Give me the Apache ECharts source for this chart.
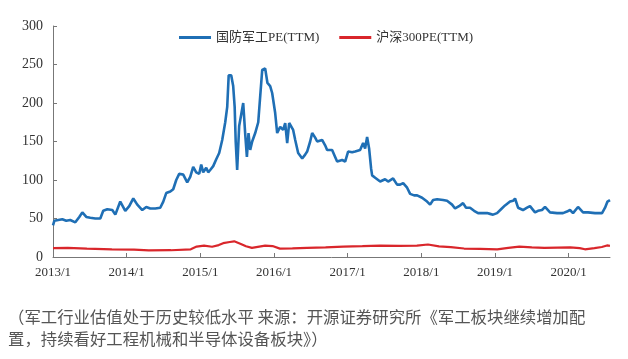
<!DOCTYPE html>
<html>
<head>
<meta charset="utf-8">
<script src="https://cdn.jsdelivr.net/npm/echarts@6/dist/echarts.min.js"></script>
<style>html,body{margin:0;padding:0;background:#fff}#c{width:628px;height:359px}</style>
</head>
<body>
<div id="c"></div>
<script>
// Decimal-year positions and PE values
const defenseName = '国防军工PE(TTM)';
const csiName = '沪深300PE(TTM)';
const yearTicks = [2013, 2014, 2015, 2016, 2017, 2018, 2019, 2020];
const defenseT = [2013.000,2013.018,2013.072,2013.126,2013.180,2013.234,2013.303,2013.357,2013.398,2013.452,2013.506,2013.574,2013.642,2013.682,2013.737,2013.805,2013.846,2013.913,2013.981,2014.035,2014.090,2014.144,2014.212,2014.266,2014.320,2014.388,2014.456,2014.497,2014.537,2014.592,2014.632,2014.673,2014.713,2014.768,2014.822,2014.863,2014.903,2014.944,2014.985,2015.012,2015.039,2015.080,2015.107,2015.134,2015.175,2015.216,2015.256,2015.297,2015.338,2015.365,2015.385,2015.419,2015.446,2015.466,2015.480,2015.500,2015.527,2015.555,2015.582,2015.609,2015.632,2015.654,2015.677,2015.704,2015.745,2015.786,2015.812,2015.840,2015.880,2015.911,2015.948,2015.975,2016.016,2016.043,2016.084,2016.124,2016.152,2016.179,2016.206,2016.260,2016.288,2016.328,2016.383,2016.423,2016.450,2016.491,2016.518,2016.559,2016.586,2016.653,2016.694,2016.721,2016.789,2016.830,2016.857,2016.925,2016.966,2017.006,2017.061,2017.101,2017.169,2017.210,2017.237,2017.264,2017.291,2017.318,2017.332,2017.373,2017.441,2017.508,2017.549,2017.617,2017.671,2017.712,2017.753,2017.807,2017.848,2017.902,2017.943,2018.010,2018.078,2018.119,2018.160,2018.214,2018.295,2018.349,2018.417,2018.458,2018.512,2018.566,2018.607,2018.661,2018.716,2018.770,2018.824,2018.892,2018.933,2018.974,2019.028,2019.082,2019.136,2019.204,2019.245,2019.272,2019.313,2019.380,2019.435,2019.475,2019.543,2019.584,2019.638,2019.679,2019.747,2019.842,2019.923,2019.977,2020.018,2020.059,2020.127,2020.195,2020.263,2020.358,2020.453,2020.494,2020.527,2020.561];
const defenseVals = [41,47,48,49,47,48,45,52,58,52,51,50,50,60,62,61,55,72,60,66,76,68,61,65,63,63,64,72,83,85,88,100,108,107,97,104,117,110,108,120,110,116,110,113,118,127,135,152,175,195,236,236,222,195,150,113,170,185,200,160,130,161,139,150,161,175,208,243,245,226,222,213,187,161,169,165,174,148,174,165,152,135,128,133,137,150,161,155,150,152,145,139,139,130,124,126,124,137,136,137,139,148,141,156,141,115,106,103,98,101,98,102,94,94,96,90,82,80,80,77,72,68,74,75,74,73,68,63,66,70,64,64,60,57,57,57,56,55,57,62,67,72,73,76,64,61,64,66,58,60,61,65,58,57,57,59,61,57,65,58,58,57,57,64,72,74];
const csiT = [2013.00,2013.20,2013.46,2013.80,2014.10,2014.30,2014.60,2014.87,2014.95,2015.05,2015.16,2015.25,2015.31,2015.40,2015.46,2015.55,2015.62,2015.70,2015.80,2015.88,2015.98,2016.08,2016.25,2016.45,2016.70,2016.94,2017.20,2017.44,2017.70,2017.94,2018.09,2018.24,2018.40,2018.58,2018.80,2019.03,2019.18,2019.33,2019.50,2019.67,2019.85,2020.02,2020.15,2020.22,2020.35,2020.45,2020.52,2020.56];
const csiVals = [11.5,11.8,10.9,10,9.5,8.5,8.8,10,13.5,14.7,13.3,15.5,18,19.5,20.4,17,14,11.9,13.5,14.7,14.2,10.9,11.2,11.9,12.5,13.5,14,14.7,14.5,14.7,16.2,13.8,12.8,11,10.5,9.8,11.9,13.5,12.5,11.9,12.3,12.5,11.5,10,11.5,13,15,14.5];
const yTicks = [0, 50, 100, 150, 200, 250, 300];
const captionLines = ['（军工行业估值处于历史较低水平 来源：开源证券研究所《军工板块继续增加配', '置，持续看好工程机械和半导体设备板块》）'];

const serif = "'Liberation Serif','Noto Sans CJK SC',serif";
const zip = (t, v) => t.map((x, i) => [x, v[i]]);
const chart = echarts.init(document.getElementById('c'), null, {renderer: 'canvas'});
chart.setOption({
  animation: false,
  backgroundColor: '#fff',
  grid: {left: 53, right: 18, top: 26, height: 231, containLabel: false},
  legend: {
    left: 174, top: 26, itemWidth: 32, itemHeight: 3, itemGap: 20, itemStyle: {borderWidth: 0},
    icon: 'rect',
    textStyle: {fontFamily: serif, fontSize: 13, color: '#333'},
    data: [defenseName, csiName]
  },
  xAxis: {
    type: 'value', min: yearTicks[0], max: 2020.561, interval: 1,
    axisLine: {lineStyle: {color: '#777', width: 1}},
    axisTick: {inside: true, length: 4, lineStyle: {color: '#777'}},
    splitLine: {show: false},
    axisLabel: {
      showMaxLabel: false, margin: 9, color: '#333', fontFamily: serif, fontSize: 13,
      formatter: v => yearTicks.includes(v) ? v + '/1' : ''
    }
  },
  yAxis: {
    type: 'value', min: yTicks[0], max: yTicks[yTicks.length - 1], interval: 50,
    axisLine: {show: true, lineStyle: {color: '#777', width: 1}},
    axisTick: {show: true, inside: true, length: 4, lineStyle: {color: '#777'}},
    splitLine: {show: false},
    axisLabel: {margin: 10, color: '#333', fontFamily: serif, fontSize: 14}
  },
  series: [
    {name: defenseName, type: 'line', data: zip(defenseT, defenseVals), showSymbol: false,
     lineStyle: {color: '#1f6fb5', width: 2.6}, itemStyle: {color: '#1f6fb5'}, z: 3},
    {name: csiName, type: 'line', data: zip(csiT, csiVals), showSymbol: false,
     lineStyle: {color: '#d9262b', width: 2.2}, itemStyle: {color: '#d9262b'}, z: 2}
  ],
  graphic: captionLines.map((t, i) => ({
    type: 'text', left: 8, top: 309 + i * 22,
    style: {text: t, fill: '#555', font: "16.4px 'Noto Sans CJK SC', sans-serif"}
  }))
});
</script>
</body>
</html>
